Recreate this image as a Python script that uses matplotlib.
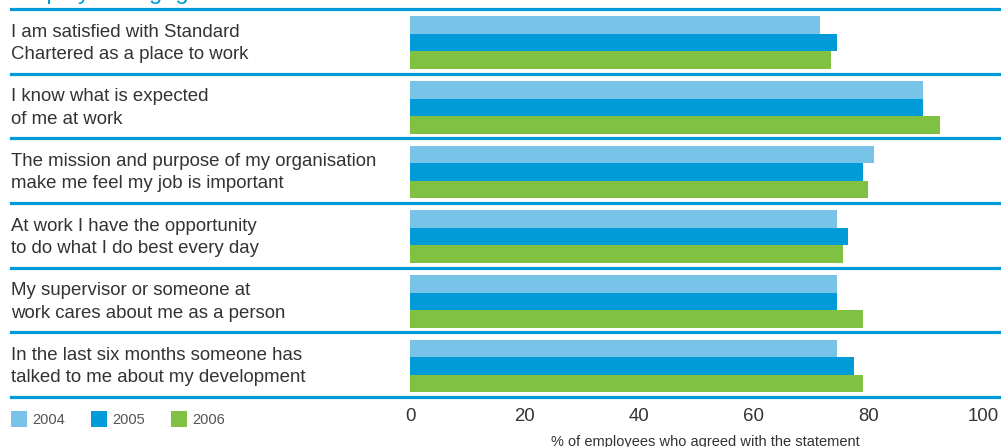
import matplotlib
matplotlib.use("Agg")
import matplotlib.pyplot as plt
from matplotlib.patches import Rectangle
from matplotlib.transforms import blended_transform_factory
import numpy as np

plt.rcParams['font.family'] = ['Liberation Sans', 'DejaVu Sans']

# statements and survey results (% agreeing)
statements = [
    "I am satisfied with Standard\nChartered as a place to work",
    "I know what is expected\nof me at work",
    "The mission and purpose of my organisation\nmake me feel my job is important",
    "At work I have the opportunity\nto do what I do best every day",
    "My supervisor or someone at\nwork cares about me as a person",
    "In the last six months someone has\ntalked to me about my development",
]
years = ["2004", "2005", "2006"]
v2004 = [71.5, 89.5, 81, 74.5, 74.5, 74.5]
v2005 = [74.5, 89.5, 79, 76.5, 74.5, 77.5]
v2006 = [73.5, 92.5, 80, 75.5, 79, 79]
xticks = [0, 20, 40, 60, 80, 100]

colors = ["#78C3E8", "#009BD8", "#80C142"]
line_col = "#009BD8"
text_col = "#333333"

W, H = 1001, 447
fig = plt.figure(figsize=(W / 100, H / 100), dpi=100)

# main axes: x 410px..1001px, y from bottom line (397px) to top
x0, px_per_unit = 410, 5.73
ax = fig.add_axes([x0 / W, (H - 397) / H, (W - x0) / W, 397 / H])
ax.set_xlim(0, (W - x0) / px_per_unit)
ax.set_ylim(5.5, -0.64)

n = len(statements)
y = np.arange(n)
bh = 0.272
for k, (vals, c) in enumerate(zip([v2004, v2005, v2006], colors)):
    ax.barh(y + (k - 1) * bh + 0.02, vals, height=bh, color=c, linewidth=0)

# separator lines across the whole width
xmin = -(x0 - 11) / (W - x0)
for k in range(n + 1):
    ax.axhline(k - 0.5, xmin=xmin, xmax=1, color=line_col, lw=2.3, clip_on=False)

# statement labels
tr = blended_transform_factory(fig.transFigure, ax.transData)
for i, s in enumerate(statements):
    ax.text(11 / W, i + 0.03, s, transform=tr, ha="left", va="center",
            fontsize=13.4, color=text_col, linespacing=1.42)

for sp in ax.spines.values():
    sp.set_visible(False)
ax.set_yticks([])
ax.set_xticks(xticks)
ax.tick_params(axis="x", length=0, pad=8, labelsize=13.4, labelcolor=text_col)
ax.set_xlabel("% of employees who agreed with the statement", fontsize=10.5,
              color=text_col, labelpad=7)

# title (clipped at top in the original)
fig.text(11 / W, 1 + 1.5 / H, "Employee engagement", ha="left", va="baseline",
         fontsize=17, color=line_col)

# legend
lx = [11, 91, 171]
for x, c, lab in zip(lx, colors, years):
    fig.patches.append(Rectangle((x / W, (H - 427) / H), 16 / W, 16 / H,
                                 transform=fig.transFigure, color=c, lw=0))
    fig.text((x + 21) / W, (H - 419.5) / H, lab, ha="left", va="center",
             fontsize=10.5, color="#555555")

fig.savefig("out.png", dpi=100)
